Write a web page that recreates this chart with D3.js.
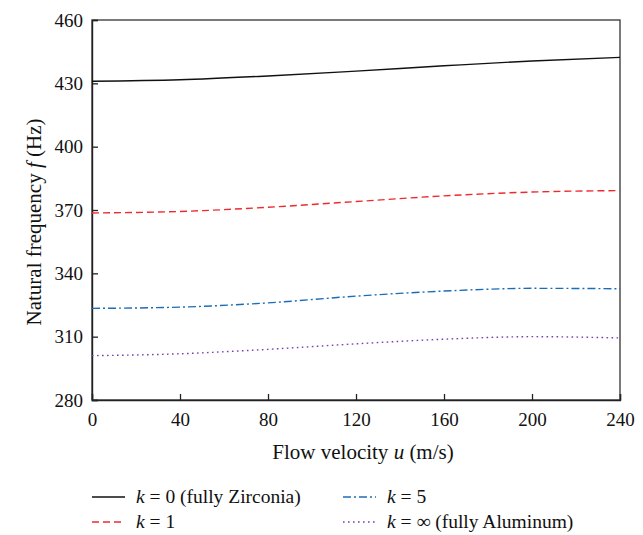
<!DOCTYPE html>
<html><head><meta charset="utf-8">
<script src="https://cdn.jsdelivr.net/npm/d3@7"></script>
<style>
html,body{margin:0;padding:0;background:#fff;}
svg text{font-family:"Liberation Serif","Times New Roman",serif !important;fill:#111;}
</style></head>
<body><svg id="c" width="643" height="535"></svg>
<script>
const velocities = [0, 40, 80, 120, 160, 200, 240];
const k0   = [431.0, 431.7, 433.5, 435.8, 438.3, 440.6, 442.3];
const k1   = [368.6, 369.3, 371.3, 374.0, 376.7, 378.5, 379.2];
const k5   = [323.4, 324.0, 326.0, 329.2, 331.6, 332.9, 332.7];
const kInf = [301.0, 301.9, 304.0, 306.6, 308.8, 310.0, 309.4];
const xTicks = [0, 40, 80, 120, 160, 200, 240];
const yTicks = [280, 310, 340, 370, 400, 430, 460];
const seriesNames = ["= 0 (fully Zirconia)", "= 1", "= 5", "= \u221E (fully Aluminum)"];

const FONT = "Liberation Serif, Times New Roman, serif";
const series = [
  {name: seriesNames[0], vals: k0,   color: "#111111", dash: null},
  {name: seriesNames[1], vals: k1,   color: "#ee2a2e", dash: "7,4"},
  {name: seriesNames[2], vals: k5,   color: "#1c6db8", dash: "8,3,2,3"},
  {name: seriesNames[3], vals: kInf, color: "#7a3fae", dash: "1.6,3.4"}
];

const svg = d3.select("#c");
const L = 92, R = 620, T = 20, B = 400;
const x = d3.scaleLinear().domain([0, 240]).range([L, R]);
const y = d3.scaleLinear().domain([280, 460]).range([B, T]);

// frame
svg.append("rect").attr("x", L).attr("y", T).attr("width", R - L).attr("height", B - T)
  .attr("fill", "none").attr("stroke", "#333").attr("stroke-width", 1.3);

// x axis
const xa = svg.append("g").attr("transform", `translate(0,${B})`)
  .call(d3.axisBottom(x).tickValues(xTicks).tickSize(-6).tickPadding(13).tickFormat(d3.format("d")))
  .attr("font-family", FONT).attr("font-size", 19);
xa.select(".domain").attr("stroke", "#222").attr("stroke-width", 1.4);
xa.selectAll(".tick line").attr("stroke", "#222").attr("stroke-width", 1.3);
xa.selectAll("text").attr("fill", "#111");

// y axis
const ya = svg.append("g").attr("transform", `translate(${L},0)`)
  .call(d3.axisLeft(y).tickValues(yTicks).tickSize(-6).tickPadding(9).tickFormat(d3.format("d")))
  .attr("font-family", FONT).attr("font-size", 19);
ya.select(".domain").attr("stroke", "#222").attr("stroke-width", 1.4);
ya.selectAll(".tick line").attr("stroke", "#222").attr("stroke-width", 1.3);
ya.selectAll("text").attr("fill", "#111");

// axis titles
const xt = svg.append("text").attr("x", 363).attr("y", 459).attr("text-anchor", "middle").attr("font-size", 21);
xt.append("tspan").text("Flow velocity ");
xt.append("tspan").attr("font-style", "italic").text("u");
xt.append("tspan").text(" (m/s)");

const yt = svg.append("text").attr("transform", `translate(41,${(T + B) / 2 + 12}) rotate(-90)`)
  .attr("text-anchor", "middle").attr("font-size", 21);
yt.append("tspan").text("Natural frequency ");
yt.append("tspan").attr("font-style", "italic").text("f");
yt.append("tspan").text(" (Hz)");

// lines
const line = d3.line().x((d, i) => x(velocities[i])).y(d => y(d)).curve(d3.curveMonotoneX);
series.forEach(s => {
  svg.append("path").datum(s.vals).attr("d", line)
    .attr("fill", "none").attr("stroke", s.color).attr("stroke-width", 1.4)
    .attr("stroke-dasharray", s.dash);
});

// legend
const legPos = [[92, 497], [92, 522], [343, 497], [343, 522]];
series.forEach((s, i) => {
  const [lx, ly] = legPos[i];
  svg.append("line").attr("x1", lx).attr("x2", lx + 33).attr("y1", ly).attr("y2", ly)
    .attr("stroke", s.color).attr("stroke-width", 1.4).attr("stroke-dasharray", s.dash);
  const t = svg.append("text").attr("x", lx + 44).attr("y", ly + 6).attr("font-size", 19.5);
  t.append("tspan").attr("font-style", "italic").text("k");
  t.append("tspan").text(" " + s.name);
});
</script></body></html>
